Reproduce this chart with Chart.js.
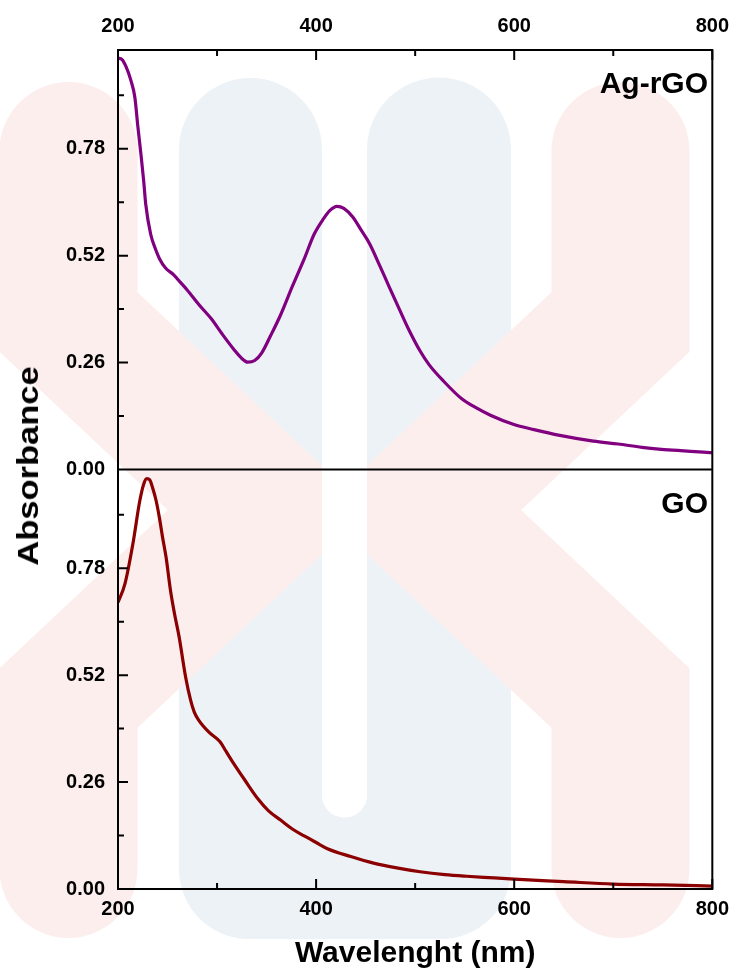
<!DOCTYPE html>
<html>
<head>
<meta charset="utf-8">
<title>Absorbance spectra of Ag-rGO and GO</title>
<script src="https://cdn.jsdelivr.net/npm/chart.js@4.4.1/dist/chart.umd.min.js"></script>
<style>
    html, body { margin: 0; padding: 0; background: #fff; }
    #wrap { position: relative; width: 741px; height: 972px; }
    #myChart { position: absolute; left: 0; top: 0; }
    .lbl {
        position: absolute;
        font-family: 'Liberation Sans', Arial, sans-serif;
        font-weight: bold;
        color: #000;
        white-space: nowrap;
    }
    #tagAg { right: 33px; top: 68px; font-size: 30px; line-height: 30px; }
    #tagGo { right: 33px; top: 488px; font-size: 30px; line-height: 30px; }
    #yTitle {
        left: 28px; top: 466px; font-size: 30px; line-height: 30px;
        transform: translate(-50%, -50%) rotate(-90deg) scaleX(1.15);
    }
</style>
</head>
<body>
<div id="wrap">
    <canvas id="myChart" width="741" height="972"></canvas>
    <div class="lbl" id="tagAg">Ag-rGO</div>
    <div class="lbl" id="tagGo">GO</div>
    <div class="lbl" id="yTitle">Absorbance</div>
</div>
<script>
// values
var agWavelength = [200, 204, 208, 213, 217, 220, 223, 226, 228, 233, 238, 242, 248, 256, 263, 270, 282, 294, 305, 317,
    325, 331, 338, 345, 354, 364, 376, 388, 398, 407, 414, 421, 428, 437, 446, 454, 464, 474, 484, 494,
    505, 514, 529, 547, 560, 576, 599, 620, 646, 680, 705, 729, 760, 800];
var agAbsorbance = [1.000, 0.997, 0.980, 0.946, 0.905, 0.835, 0.770, 0.700, 0.645, 0.572, 0.535, 0.512, 0.490, 0.474, 0.455, 0.436, 0.400, 0.367, 0.330, 0.292,
    0.270, 0.261, 0.265, 0.283, 0.325, 0.375, 0.445, 0.512, 0.572, 0.608, 0.630, 0.640, 0.635, 0.614, 0.580, 0.549, 0.497, 0.443, 0.390, 0.338,
    0.288, 0.255, 0.214, 0.172, 0.152, 0.132, 0.110, 0.097, 0.083, 0.069, 0.062, 0.054, 0.047, 0.041];

var goWavelength = [200, 207, 215, 222, 226, 229, 232, 235, 238.5, 242, 245, 248.5, 253, 257, 261.7, 268.3, 273.3, 277, 281.6, 291.5,
    303, 309, 314.7, 328, 341, 352, 364.5, 376, 388, 400, 411.5, 435, 458, 480, 505, 530, 552, 580, 600, 650,
    700, 750, 800];
var goAbsorbance = [0.697, 0.742, 0.839, 0.944, 0.985, 0.998, 0.995, 0.975, 0.944, 0.900, 0.855, 0.807, 0.726, 0.670, 0.613, 0.515, 0.459, 0.430, 0.410, 0.382,
    0.358, 0.335, 0.313, 0.265, 0.220, 0.190, 0.167, 0.146, 0.129, 0.113, 0.098, 0.079, 0.063, 0.052, 0.042, 0.035, 0.031, 0.027, 0.024, 0.018,
    0.012, 0.010, 0.007];

var xTickValues = [200, 400, 600, 800];
var xMinorTicks = [300, 500, 700];
var yTickValues = [0, 0.26, 0.52, 0.78];
var yMinorTicks = [0.13, 0.39, 0.65, 0.91];

function toPoints(xs, ys) {
    return xs.map(function (x, i) { return { x: x, y: ys[i] }; });
}

// faint logo in the background of the original picture
var watermark = {
    id: 'watermark',
    beforeDraw: function (chart) {
        var ctx = chart.ctx;
        ctx.save();
        ctx.fillStyle = '#fff';
        ctx.fillRect(0, 0, chart.width, chart.height);

        // blue "U"
        ctx.fillStyle = '#edf2f7';
        ctx.beginPath();
        ctx.moveTo(179, 869);
        ctx.lineTo(179, 149.5);
        ctx.arc(250.5, 149.5, 71.5, Math.PI, 0, false);
        ctx.lineTo(322, 795);
        ctx.arc(344.5, 795, 22.5, Math.PI, 0, true);
        ctx.lineTo(367, 149.5);
        ctx.arc(439, 149.5, 72, Math.PI, 0, false);
        ctx.lineTo(511, 869);
        ctx.arcTo(511, 939, 441, 939, 70);
        ctx.lineTo(249, 939);
        ctx.arcTo(179, 939, 179, 869, 70);
        ctx.closePath();
        ctx.fill();

        // pink chevrons
        ctx.strokeStyle = '#fdeeee';
        ctx.lineWidth = 138;
        ctx.lineCap = 'round';
        ctx.lineJoin = 'miter';
        ctx.beginPath();
        ctx.moveTo(68.5, 151); ctx.lineTo(68.5, 322); ctx.lineTo(268.5, 510); ctx.lineTo(68.5, 698); ctx.lineTo(68.5, 869);
        ctx.moveTo(620.5, 151); ctx.lineTo(620.5, 322); ctx.lineTo(420.5, 510); ctx.lineTo(620.5, 698); ctx.lineTo(620.5, 869);
        ctx.stroke();

        // white slot between the blue bars stays clear
        ctx.fillStyle = '#fff';
        ctx.beginPath();
        ctx.moveTo(322, 60);
        ctx.lineTo(322, 795);
        ctx.arc(344.5, 795, 22.5, Math.PI, 0, true);
        ctx.lineTo(367, 60);
        ctx.closePath();
        ctx.fill();
        ctx.restore();
    }
};

// box around both panels + inward tick marks
var frameAndTicks = {
    id: 'frameAndTicks',
    afterDatasetsDraw: function (chart) {
        var ctx = chart.ctx;
        var a = chart.chartArea;
        var x = chart.scales.x;
        var panels = [chart.scales.yAg, chart.scales.yGo];

        ctx.save();
        ctx.strokeStyle = '#000';
        ctx.lineWidth = 2;
        ctx.strokeRect(a.left, a.top, a.right - a.left, a.bottom - a.top);

        ctx.beginPath();
        ctx.moveTo(a.left, chart.scales.yAg.bottom);
        ctx.lineTo(a.right, chart.scales.yAg.bottom);

        function xTick(v, len) {
            var px = x.getPixelForValue(v);
            ctx.moveTo(px, a.top); ctx.lineTo(px, a.top + len);
            ctx.moveTo(px, a.bottom); ctx.lineTo(px, a.bottom - len);
        }
        xTickValues.forEach(function (v) { xTick(v, 10); });
        xMinorTicks.forEach(function (v) { xTick(v, 6); });

        panels.forEach(function (s) {
            yTickValues.forEach(function (v) {
                var py = s.getPixelForValue(v);
                ctx.moveTo(a.left, py); ctx.lineTo(a.left + 10, py);
            });
            yMinorTicks.forEach(function (v) {
                var py = s.getPixelForValue(v);
                ctx.moveTo(a.left, py); ctx.lineTo(a.left + 6, py);
            });
        });
        ctx.stroke();
        ctx.restore();
    }
};

Chart.defaults.font.family = "'Liberation Sans', Arial, sans-serif";
Chart.defaults.color = '#000';

var tickFont = { size: 20, weight: 'bold' };

function yAxis() {
    return {
        type: 'linear',
        position: 'left',
        stack: 'panels',
        stackWeight: 1,
        min: 0,
        max: 1.02,
        grid: { display: false, drawTicks: false },
        border: { display: false },
        afterBuildTicks: function (scale) {
            scale.ticks = yTickValues.map(function (v) { return { value: v }; });
        },
        ticks: {
            font: tickFont,
            padding: 13,
            callback: function (v) { return Number(v).toFixed(2); }
        },
        afterFit: function (scale) { scale.width = 118; }
    };
}

function xAxis(pos) {
    var cfg = {
        type: 'linear',
        position: pos,
        min: 200,
        max: 800,
        grid: { display: false, drawTicks: false },
        border: { display: false },
        afterBuildTicks: function (scale) {
            scale.ticks = xTickValues.map(function (v) { return { value: v }; });
        },
        ticks: { font: tickFont, padding: pos === 'top' ? 12 : 8 },
        afterFit: function (scale) { scale.height = pos === 'top' ? 50 : 83; }
    };
    if (pos === 'bottom') {
        cfg.title = {
            display: true,
            text: 'Wavelenght (nm)',
            font: { size: 30, weight: 'bold' },
            padding: 0
        };
    }
    return cfg;
}

document.addEventListener('DOMContentLoaded', function () {
    var chartContext = document.getElementById('myChart').getContext('2d');

    new Chart(chartContext, {
        type: 'line',
        data: {
            datasets: [{
                label: 'GO',
                data: toPoints(goWavelength, goAbsorbance),
                xAxisID: 'x',
                yAxisID: 'yGo',
                borderColor: '#8b0000',
                borderWidth: 3.2,
                pointRadius: 0,
                tension: 0.4,
                cubicInterpolationMode: 'monotone',
                fill: false
            }, {
                label: 'Ag-rGO',
                data: toPoints(agWavelength, agAbsorbance),
                xAxisID: 'x',
                yAxisID: 'yAg',
                borderColor: '#800080',
                borderWidth: 3.2,
                pointRadius: 0,
                tension: 0.4,
                cubicInterpolationMode: 'monotone',
                fill: false
            }]
        },
        options: {
            responsive: false,
            animation: false,
            layout: { padding: { left: 0, right: 20, top: 0, bottom: 0 } },
            scales: {
                // first one in the stack ends up at the bottom
                yGo: yAxis(),
                yAg: yAxis(),
                x: xAxis('bottom'),
                x2: xAxis('top')
            },
            plugins: {
                legend: { display: false },
                tooltip: { enabled: false }
            }
        },
        plugins: [watermark, frameAndTicks]
    });
});
</script>
</body>
</html>
